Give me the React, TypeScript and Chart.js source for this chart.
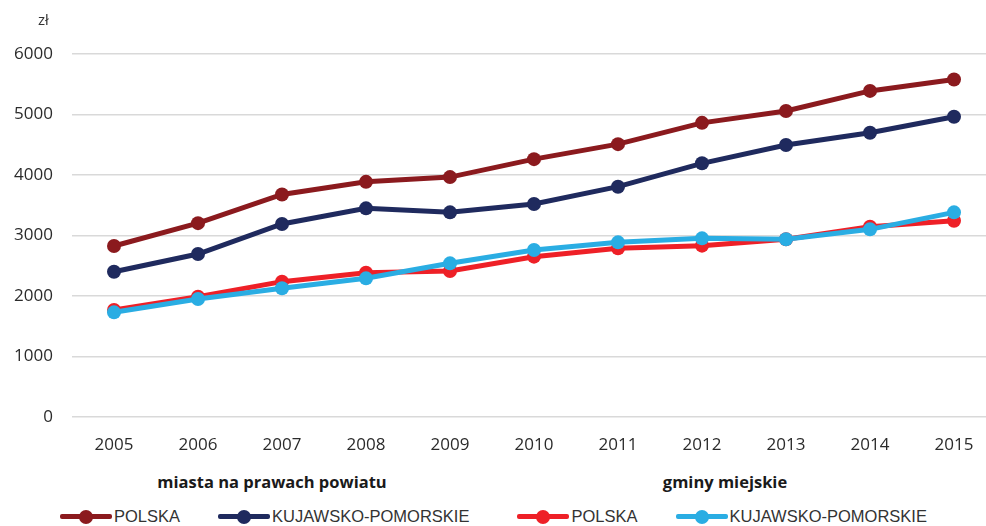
import React, { useEffect, useRef } from "react";
import { Chart, registerables } from "chart.js";
Chart.register(...registerables);

const years = ["2005", "2006", "2007", "2008", "2009", "2010", "2011", "2012", "2013", "2014", "2015"];
const polskaMiasta = [2826, 3204, 3678, 3887, 3965, 4262, 4510, 4862, 5058, 5390, 5578];
const kujMiasta = [2402, 2694, 3190, 3449, 3383, 3521, 3807, 4193, 4496, 4699, 4964];
const polskaGminy = [1769, 1989, 2237, 2386, 2413, 2650, 2788, 2832, 2937, 3146, 3245];
const kujGminy = [1730, 1950, 2127, 2292, 2540, 2760, 2887, 2953, 2937, 3102, 3383];
const yMin = 0;
const yMax = 6000;
const yStep = 1000;
const unitLabel = "zł";
const groupLabels = ["miasta na prawach powiatu", "gminy miejskie"];
const seriesNames = ["POLSKA", "KUJAWSKO-POMORSKIE", "POLSKA", "KUJAWSKO-POMORSKIE"];
const colors = ["#8b1a1e", "#1f2a5e", "#ee2027", "#2aade3"];

const tickFont = { family: "'Open Sans', sans-serif", size: 17 };

function LegendMarker({ color }: { color: string }) {
  return (
    <span style={{ position: "relative", display: "inline-block", width: 52, height: 16, verticalAlign: "middle" }}>
      <span style={{ position: "absolute", left: 0, right: 0, top: 5.5, height: 5, background: color, borderRadius: 2 }} />
      <span style={{ position: "absolute", left: 19, top: 1, width: 14, height: 14, borderRadius: "50%", background: color }} />
    </span>
  );
}

export default function App() {
  const ref = useRef<HTMLCanvasElement | null>(null);
  useEffect(() => {
    if (!ref.current) return;
    const data = [polskaMiasta, kujMiasta, polskaGminy, kujGminy];
    const chart = new Chart(ref.current, {
      type: "line",
      data: {
        labels: years,
        datasets: data.map((d, i) => ({
          label: seriesNames[i],
          data: d,
          borderColor: colors[i],
          backgroundColor: colors[i],
          pointBackgroundColor: colors[i],
          pointBorderColor: colors[i],
          pointBorderWidth: 0,
          pointRadius: 7,
          borderWidth: 5,
          tension: 0,
          order: 3 - i,
        })),
      },
      options: {
        animation: false,
        responsive: false,
        layout: { padding: { left: 0, right: 0, top: 54, bottom: 10 } },
        plugins: { legend: { display: false }, tooltip: { enabled: false } },
        scales: {
          x: {
            offset: true,
            grid: { display: false },
            border: { display: false },
            ticks: { color: "#2b2b2b", font: tickFont, padding: 10, maxRotation: 0 },
            afterFit: (s: any) => { s.height = 33; },
          },
          y: {
            min: yMin,
            max: yMax,
            grid: { color: "#d9d9d9", lineWidth: 1.5, drawTicks: false },
            border: { display: false },
            ticks: { stepSize: yStep, color: "#2b2b2b", font: tickFont, padding: 19, callback: (v: any) => String(v) },
            afterFit: (s: any) => { s.width = 72; },
          },
        },
      },
    });
    return () => chart.destroy();
  }, []);

  const legendFont = "'Liberation Sans Narrow', 'Arial Narrow', sans-serif";
  return (
    <div style={{ position: "fixed", left: 0, top: 0, width: 986, height: 526, overflow: "hidden", background: "#fff" }}>
      <canvas ref={ref} width={1003} height={460} style={{ position: "absolute", left: 0, top: 0, width: 1003, height: 460 }} />
      <span style={{ position: "absolute", left: 38, top: 9, font: "15px 'Open Sans', sans-serif", color: "#333" }}>{unitLabel}</span>
      {groupLabels.map((g, i) => (
        <div key={g} style={{ position: "absolute", left: i === 0 ? 272 - 150 : 725 - 150, width: 300, top: 470, textAlign: "center", font: "bold 16.5px 'Open Sans', sans-serif", color: "#1a1a1a" }}>{g}</div>
      ))}
      <div style={{ position: "absolute", left: 60, top: 507, display: "flex", alignItems: "center", font: `16.5px ${legendFont}`, color: "#333", whiteSpace: "nowrap" }}>
        {seriesNames.map((n, i) => (
          <span key={i} style={{ display: "inline-flex", alignItems: "center", marginRight: i === 1 ? 48 : 38 }}>
            <LegendMarker color={colors[i]} />
            <span style={{ marginLeft: 2 }}>{n}</span>
          </span>
        ))}
      </div>
    </div>
  );
}
